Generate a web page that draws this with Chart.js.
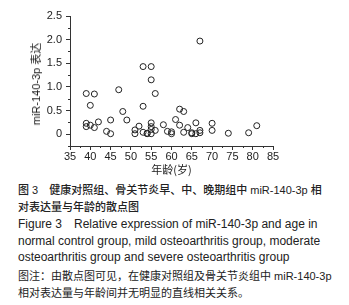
<!DOCTYPE html>
<html lang="zh">
  <head>
    <meta charset="UTF-8" />
    <title>miR-140-3p scatter</title>
    <style>
      body {
        margin: 0;
        width: 349px;
        height: 305px;
        background: #fff;
        position: relative;
        overflow: hidden;
        font-family: "Liberation Sans", Arial, "Noto Sans CJK SC", sans-serif;
        color: #222;
      }
      .chart-box {
        position: absolute;
        left: 0;
        top: 0;
        width: 349px;
        height: 180px;
      }
      .ytitle {
        position: absolute;
        left: 35px;
        top: 84px;
        font-size: 11px;
        white-space: nowrap;
        transform: translate(-50%, -50%) rotate(-90deg);
      }
      .cap {
        position: absolute;
        left: 18px;
        font-size: 12px;
        line-height: 14px;
        white-space: nowrap;
      }
      .cn {
        font-size: 11px;
      }
      .bold {
        font-weight: 500;
      }
    </style>
  </head>
  <body>
    <div class="chart-box">
      <canvas id="scatter" width="349" height="180"></canvas>
    </div>
    <div class="ytitle">miR-140-3p 表达</div>
    <div class="cap cn bold" style="top: 183px">图 3　健康对照组、骨关节炎早、中、晚期组中 miR-140-3p 相</div>
    <div class="cap cn bold" style="top: 200px">对表达量与年龄的散点图</div>
    <div class="cap" style="top: 217px">Figure 3　Relative expression of miR-140-3p and age in</div>
    <div class="cap" style="top: 234px">normal control group, mild osteoarthritis group, moderate</div>
    <div class="cap" style="top: 250px">osteoarthritis group and severe osteoarthritis group</div>
    <div class="cap cn" style="top: 269px">图注：由散点图可见，在健康对照组及骨关节炎组中 miR-140-3p</div>
    <div class="cap cn" style="top: 286px">相对表达量与年龄间并无明显的直线相关关系。</div>

    <script src="https://cdn.jsdelivr.net/npm/chart.js"></script>
    <script>
      // age (years) and relative miR-140-3p expression
      const ages = [
        39, 39, 39, 40, 40, 41, 41, 42, 44, 45, 45, 47, 48, 49, 51, 51, 52,
        53, 53, 53, 54, 54, 55, 55, 55, 55, 55, 55, 56, 56, 58, 59, 60, 60,
        61, 62, 62, 63, 63, 64, 65, 65, 66, 66, 67, 67, 67, 70, 70, 74, 79, 81,
      ];
      const expression = [
        0.86, 0.23, 0.16, 0.61, 0.19, 0.85, 0.14, 0.26, 0.06, 0.3, 0.01, 0.94,
        0.48, 0.3, 0.09, 0.01, 0.17, 1.43, 0.59, 0.04, 0.01, 0.02, 1.43, 1.15,
        0.24, 0.16, 0.1, 0.01, 0.86, 0.08, 0.2, 0.06, 0.05, 0.01, 0.31, 0.53,
        0.19, 0.48, 0.04, 0.14, 0.03, 0.01, 0.24, 0.01, 1.97, 0.08, 0.03, 0.23,
        0.08, 0.02, 0.03, 0.18,
      ];
      const xTicks = [35, 40, 45, 50, 55, 60, 65, 70, 75, 80, 85];
      const yTicks = [0, 0.5, 1.0, 1.5, 2.0, 2.5];
      const xMinor = [37.5, 42.5, 47.5, 52.5, 57.5, 62.5, 67.5, 72.5, 77.5, 82.5];
      const yMinor = [-0.25, 0.25, 0.75, 1.25, 1.75, 2.25];

      const points = ages.map((a, i) => ({ x: a, y: expression[i] }));
      const axisColor = "#333";

      // small outward ticks between the labelled ones
      const minorTicks = {
        id: "minorTicks",
        afterDraw(chart) {
          const ctx = chart.ctx;
          const xs = chart.scales.x;
          const ys = chart.scales.y;
          ctx.save();
          ctx.strokeStyle = axisColor;
          ctx.lineWidth = 1;
          ctx.beginPath();
          xMinor.forEach((v) => {
            const px = Math.round(xs.getPixelForValue(v)) + 0.5;
            ctx.moveTo(px, xs.top);
            ctx.lineTo(px, xs.top + 2);
          });
          yMinor.forEach((v) => {
            const py = Math.round(ys.getPixelForValue(v)) + 0.5;
            ctx.moveTo(ys.right, py);
            ctx.lineTo(ys.right - 2, py);
          });
          ctx.stroke();
          ctx.restore();
        },
      };

      new Chart(document.getElementById("scatter"), {
        type: "scatter",
        data: {
          datasets: [
            {
              data: points,
              pointRadius: 3,
              pointHoverRadius: 3,
              pointBorderWidth: 1,
              pointBorderColor: "#222",
              pointBackgroundColor: "rgba(255,255,255,0)",
            },
          ],
        },
        options: {
          responsive: false,
          animation: false,
          events: [],
          layout: { padding: { left: 0, right: 76, top: 16, bottom: 0 } },
          plugins: { legend: { display: false }, tooltip: { enabled: false } },
          scales: {
            x: {
              type: "linear",
              min: 35,
              max: 85,
              afterBuildTicks: (s) => {
                s.ticks = xTicks.map((v) => ({ value: v }));
              },
              grid: {
                display: true,
                drawOnChartArea: false,
                drawTicks: true,
                tickLength: 4,
                color: axisColor,
              },
              border: { color: axisColor, width: 1 },
              ticks: {
                color: "#222",
                font: { family: "Liberation Sans", size: 11 },
                padding: 0,
                maxRotation: 0,
              },
              title: {
                display: true,
                text: "年龄(岁)",
                color: "#222",
                font: { family: "Noto Sans CJK SC", size: 11 },
                padding: { top: 0, bottom: 3.6 },
              },
            },
            y: {
              type: "linear",
              min: -0.25,
              max: 2.5,
              afterBuildTicks: (s) => {
                s.ticks = yTicks.map((v) => ({ value: v }));
              },
              afterFit: (s) => {
                s.width = 70;
              },
              grid: {
                display: true,
                drawOnChartArea: false,
                drawTicks: true,
                tickLength: 4,
                color: axisColor,
              },
              border: { color: axisColor, width: 1 },
              ticks: {
                color: "#222",
                font: { family: "Liberation Sans", size: 11 },
                padding: 4,
                callback: (v) => (v === 0 ? "0" : v.toFixed(1)),
              },
            },
          },
        },
        plugins: [minorTicks],
      });
    </script>
  </body>
</html>
